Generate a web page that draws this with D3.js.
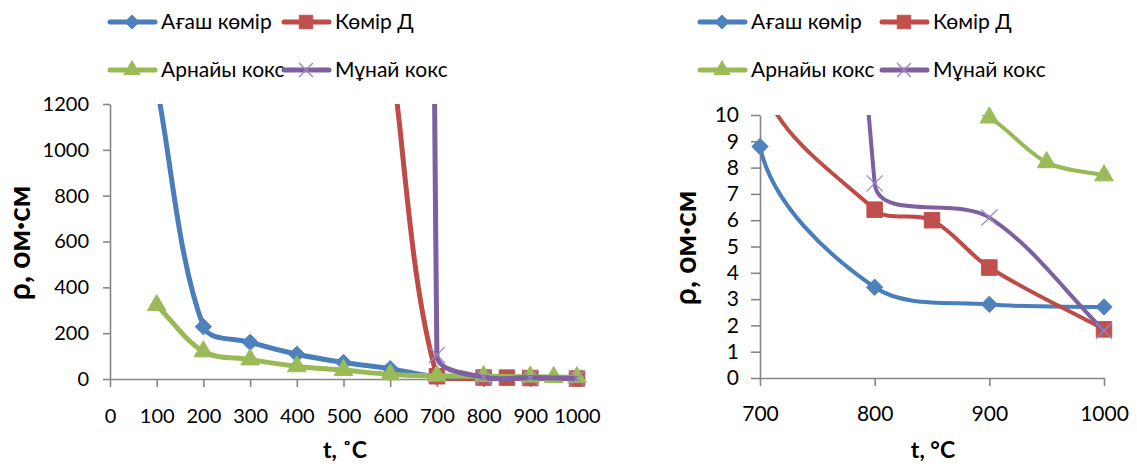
<!DOCTYPE html>
<html lang="kk">
<head>
<meta charset="UTF-8">
<title>ρ(t)</title>
<script src="https://d3js.org/d3.v7.min.js"></script>
<style>
  body { margin: 0; background: #fff; }
  svg { display: block; }
  text { font-family: Lato, "Open Sans", sans-serif; fill: #000; }
</style>
</head>
<body>
<svg id="chart" width="1137" height="466"></svg>
<script>
// series data (t, °C  ->  ρ, ом·см)
var woodT   = [100, 200, 300, 400, 500, 600, 700, 800, 900, 1000];
var woodRho = [1280, 228, 160, 108, 72, 45, 8.8, 3.45, 2.8, 2.7];
var coalT   = [600, 700, 800, 850, 900, 1000];
var coalRho = [1450, 12, 6.4, 6.0, 4.2, 1.85];
var specT   = [100, 200, 300, 400, 500, 600, 700, 800, 900, 950, 1000];
var specRho = [322, 120, 85, 55, 39, 20, 14, 12, 9.9, 8.2, 7.7];
var oilT    = [700, 700, 800, 900, 1000];
var oilRho  = [20000, 105, 7.4, 6.1, 1.8];

var seriesNames = ["Ағаш көмір", "Көмір Д", "Арнайы кокс", "Мұнай кокс"];

var leftXTicks = [0, 100, 200, 300, 400, 500, 600, 700, 800, 900, 1000];
var leftYTicks = [0, 200, 400, 600, 800, 1000, 1200];
var rightXTicks = [700, 800, 900, 1000];
var rightYTicks = [0, 1, 2, 3, 4, 5, 6, 7, 8, 9, 10];

function zip(ts, vs) { return ts.map(function(t, i) { return { t: t, v: vs[i] }; }); }

var series = [
  { name: seriesNames[0], data: zip(woodT, woodRho), line: "#4a7ebb", fill: "#4f81bd", sym: d3.symbolDiamond2, size: 170 },
  { name: seriesNames[1], data: zip(coalT, coalRho), line: "#be4b48", fill: "#c0504d", sym: d3.symbolSquare, size: 240 },
  { name: seriesNames[2], data: zip(specT, specRho), line: "#98b954", fill: "#9bbb59", sym: d3.symbolTriangle, size: 150 },
  { name: seriesNames[3], data: zip(oilT, oilRho),  line: "#7d60a0", fill: "#8064a2", sym: d3.symbolX, size: 170, stroke: true }
];

// smoothed line like the spreadsheet one: bezier with tangents scaled by chord lengths
function curveSmooth(context) {
  var pts;
  function dist(a, b) { return Math.hypot(b[0] - a[0], b[1] - a[1]); }
  return {
    lineStart: function() { pts = []; },
    point: function(x, y) { pts.push([+x, +y]); },
    lineEnd: function() {
      var n = pts.length;
      if (!n) return;
      context.moveTo(pts[0][0], pts[0][1]);
      for (var i = 0; i < n - 1; i++) {
        var p0 = pts[Math.max(i - 1, 0)], p1 = pts[i], p2 = pts[i + 1], p3 = pts[Math.min(i + 2, n - 1)];
        var d01 = dist(p0, p1), d12 = dist(p1, p2), d23 = dist(p2, p3);
        var f1 = d01 + d12 > 0 ? d12 / (d01 + d12) / 3 : 0;
        var f2 = d12 + d23 > 0 ? d12 / (d12 + d23) / 3 : 0;
        context.bezierCurveTo(
          p1[0] + (p2[0] - p0[0]) * f1, p1[1] + (p2[1] - p0[1]) * f1,
          p2[0] - (p3[0] - p1[0]) * f2, p2[1] - (p3[1] - p1[1]) * f2,
          p2[0], p2[1]);
      }
    },
    areaStart: function() {}, areaEnd: function() {}
  };
}

var svg = d3.select("#chart");
var axisColor = "#868686";

function drawChart(cfg) {
  var x = d3.scaleLinear().domain(cfg.xDomain).range([cfg.left, cfg.right]);
  var y = d3.scaleLinear().domain(cfg.yDomain).range([cfg.bottom, cfg.top]);
  var g = svg.append("g");

  g.append("clipPath").attr("id", cfg.id + "-clip")
    .append("rect")
    .attr("x", cfg.left).attr("y", cfg.top)
    .attr("width", cfg.right - cfg.left + 6).attr("height", cfg.bottom - cfg.top + 2);

  // axes
  var xAxis = g.append("g").attr("transform", "translate(0," + cfg.bottom + ")")
    .call(d3.axisBottom(x).tickValues(cfg.xTicks).tickFormat(d3.format("d"))
      .tickSize(8).tickPadding(cfg.xPad).tickSizeOuter(0));
  var yAxis = g.append("g").attr("transform", "translate(" + cfg.left + ",0)")
    .call(d3.axisLeft(y).tickValues(cfg.yTicks).tickFormat(d3.format("d"))
      .tickSize(cfg.yTickLen).tickPadding(cfg.yPad).tickSizeOuter(0));
  [xAxis, yAxis].forEach(function(a) {
    a.select(".domain").attr("stroke", axisColor).attr("stroke-width", 1.6);
    a.selectAll(".tick line").attr("stroke", axisColor).attr("stroke-width", 1.6);
    a.selectAll(".tick text").style("font-size", cfg.tickFont + "px").attr("fill", "#000");
  });

  var line = d3.line()
    .x(function(d) { return x(d.t); })
    .y(function(d) { return y(d.v); })
    .curve(curveSmooth);

  series.forEach(function(s) {
    g.append("path").datum(s.data)
      .attr("clip-path", "url(#" + cfg.id + "-clip)")
      .attr("d", line)
      .attr("fill", "none")
      .attr("stroke", s.line)
      .attr("stroke-width", cfg.lineW)
      .attr("stroke-linejoin", "round");

    // markers only for points inside the value range
    var pts = s.data.filter(function(d) {
      return d.t >= cfg.xDomain[0] && d.t <= cfg.xDomain[1] && d.v <= cfg.yDomain[1];
    });
    g.selectAll(null).data(pts).enter().append("path")
      .attr("transform", function(d) { return "translate(" + x(d.t) + "," + y(d.v) + ")"; })
      .attr("d", d3.symbol().type(s.sym).size(s.size))
      .attr("fill", s.stroke ? "none" : s.fill)
      .attr("stroke", s.stroke ? "#9a86c0" : s.fill)
      .attr("stroke-width", s.stroke ? 1.3 : 1);
  });

  // axis titles
  g.append("text")
    .attr("x", cfg.xTitle[0]).attr("y", cfg.xTitle[1])
    .attr("text-anchor", "middle")
    .style("font-size", "23px").style("font-weight", "bold")
    .text(cfg.xLabel);
  g.append("text")
    .attr("transform", "translate(" + cfg.yTitle[0] + "," + cfg.yTitle[1] + ") rotate(-90)")
    .attr("text-anchor", "middle")
    .style("font-size", "30px").style("font-weight", "bold")
    .text("ρ, ом·см");

  // legend
  var leg = g.append("g");
  series.forEach(function(s, i) {
    var lx = cfg.legX[i % 2], ly = cfg.legY[Math.floor(i / 2)];
    leg.append("line")
      .attr("x1", lx).attr("x2", lx + 45).attr("y1", ly).attr("y2", ly)
      .attr("stroke", s.line).attr("stroke-width", 5).attr("stroke-linecap", "round");
    leg.append("path")
      .attr("transform", "translate(" + (lx + 22) + "," + ly + ")")
      .attr("d", d3.symbol().type(s.sym).size(s.size * 0.75))
      .attr("fill", s.stroke ? "none" : s.fill)
      .attr("stroke", s.stroke ? "#9a86c0" : s.fill)
      .attr("stroke-width", s.stroke ? 1.4 : 1);
    leg.append("text")
      .attr("x", lx + 51).attr("y", ly).attr("dy", "0.35em")
      .style("font-size", "21px")
      .text(s.name);
  });
}

drawChart({
  id: "left", xDomain: [0, 1000], yDomain: [0, 1200],
  left: 110, right: 577, top: 104, bottom: 379,
  xTicks: leftXTicks, yTicks: leftYTicks, yTickLen: 7, yPad: 14, xPad: 22,
  tickFont: 20, lineW: 5,
  xLabel: "t, ˚C", xTitle: [345, 458], yTitle: [30, 243],
  legX: [110, 284], legY: [22, 70]
});

drawChart({
  id: "right", xDomain: [700, 1000], yDomain: [0, 10],
  left: 760, right: 1104, top: 115, bottom: 378,
  xTicks: rightXTicks, yTicks: rightYTicks, yTickLen: 9, yPad: 12, xPad: 20,
  tickFont: 21, lineW: 4,
  xLabel: "t, °C", xTitle: [933, 458], yTitle: [696, 248],
  legX: [700, 882], legY: [22, 70]
});
</script>
</body>
</html>
